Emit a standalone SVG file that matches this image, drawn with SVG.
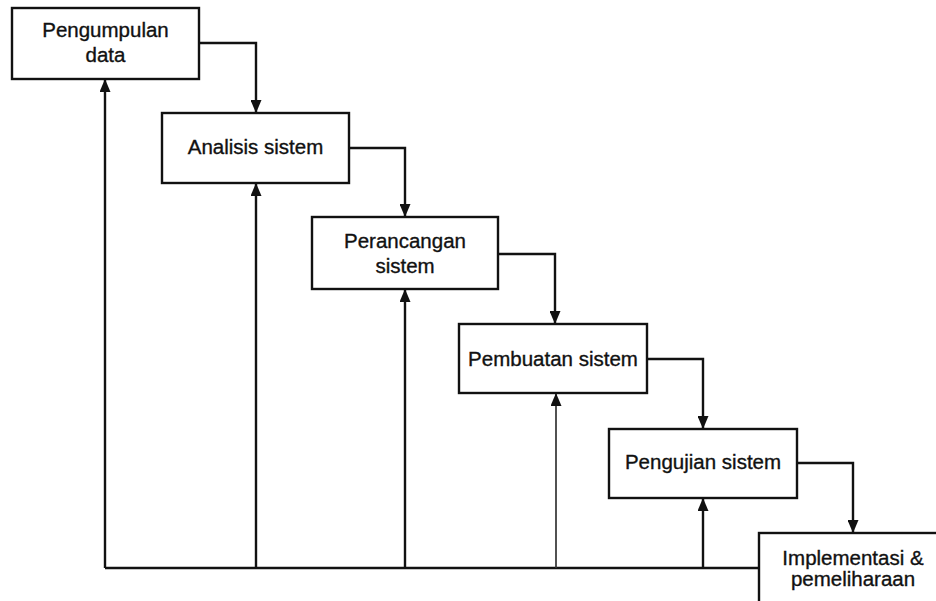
<svg xmlns="http://www.w3.org/2000/svg" width="936" height="601" viewBox="0 0 936 601">
<style>
.box{fill:#fff;stroke:#111;stroke-width:2.4}
.lbl{font-family:"Liberation Sans",Arial,sans-serif;font-size:20.5px;fill:#111;stroke:#111;stroke-width:0.35;text-anchor:middle}
.ln{fill:none;stroke:#111;stroke-width:2.4}
</style>
<defs>
<marker id="ah" viewBox="0 0 13 11" refX="13" refY="5.5" markerWidth="13" markerHeight="11" markerUnits="userSpaceOnUse" orient="auto">
<path d="M0,0 L13,5.5 L0,11 Z" fill="#111"/>
</marker>
</defs>
<rect width="936" height="601" fill="#fff"/>
<g id="connectors">
<path class="ln" d="M199,43 H256 V113" marker-end="url(#ah)"/>
<path class="ln" d="M349,148 H405 V217" marker-end="url(#ah)"/>
<path class="ln" d="M498,254 H555 V324" marker-end="url(#ah)"/>
<path class="ln" d="M647,359 H703 V429" marker-end="url(#ah)"/>
<path class="ln" d="M797,463 H853 V533" marker-end="url(#ah)"/>
<path class="ln" d="M759,568 H105"/>
<path class="ln" d="M105,568 V79" marker-end="url(#ah)"/>
<path class="ln" d="M256,568 V183" marker-end="url(#ah)"/>
<path class="ln" d="M405,568 V289" marker-end="url(#ah)"/>
<path class="ln" d="M556,568 V393" style="stroke-width:1.7;stroke:#333" marker-end="url(#ah)"/>
<path class="ln" d="M703,568 V498" marker-end="url(#ah)"/>
</g>
<g id="n1">
<rect class="box" x="12" y="8" width="187" height="71"/>
<text class="lbl" x="105.5" y="37">Pengumpulan</text>
<text class="lbl" x="105.5" y="62">data</text>
</g>
<g id="n2">
<rect class="box" x="162" y="113" width="187" height="70"/>
<text class="lbl" x="255.5" y="154">Analisis sistem</text>
</g>
<g id="n3">
<rect class="box" x="312" y="217" width="186" height="72"/>
<text class="lbl" x="405" y="248">Perancangan</text>
<text class="lbl" x="405" y="273">sistem</text>
</g>
<g id="n4">
<rect class="box" x="459" y="324" width="188" height="69"/>
<text class="lbl" x="553" y="366">Pembuatan sistem</text>
</g>
<g id="n5">
<rect class="box" x="609" y="429" width="188" height="69"/>
<text class="lbl" x="703" y="469">Pengujian sistem</text>
</g>
<g id="n6">
<rect class="box" x="759" y="533" width="188" height="80"/>
<text class="lbl" x="853" y="565">Implementasi &amp;</text>
<text class="lbl" x="853" y="586">pemeliharaan</text>
</g>
</svg>
